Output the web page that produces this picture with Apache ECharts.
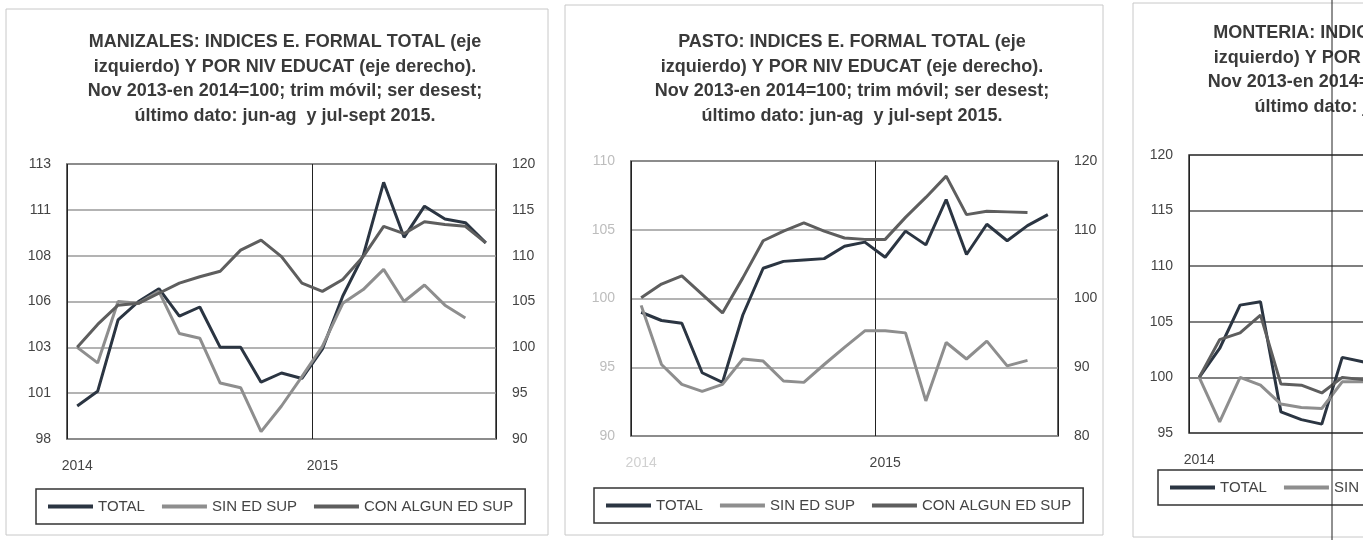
<!DOCTYPE html>
<html><head><meta charset="utf-8">
<script src="https://cdn.jsdelivr.net/npm/echarts@6/dist/echarts.min.js"></script>
<style>html,body{margin:0;padding:0;background:#fff}#c{width:1363px;height:540px}</style>
</head><body><div id="c"></div><script>
// ---- data ----
const categories = ['2014-01','2014-02','2014-03','2014-04','2014-05','2014-06','2014-07','2014-08','2014-09','2014-10','2014-11','2014-12',
  '2015-01','2015-02','2015-03','2015-04','2015-05','2015-06','2015-07','2015-08','2015-09'];
const seriesNames = ['TOTAL','SIN ED SUP','CON ALGUN ED SUP'];
// position (in category units, boundary before Jan 2015) of the year separator
const yearBreak = 11.5;

const manizalesTotal = [99.8,100.6,104.5,105.5,106.2,104.7,105.2,103.0,103.0,101.1,101.6,101.3,102.9,105.8,108.0,112.0,109.0,110.7,110.0,109.8,108.7];
const manizalesSin   = [100,98.3,105.0,104.8,106.1,101.5,101.0,96.1,95.6,90.8,93.6,96.8,100.1,104.8,106.3,108.5,105.0,106.8,104.6,103.2];
const manizalesCon   = [100,102.5,104.6,104.8,105.9,107.0,107.7,108.3,110.6,111.7,109.9,107.0,106.1,107.4,109.9,113.2,112.4,113.7,113.4,113.2,111.4];

const pastoTotal = [99.0,98.4,98.2,94.6,93.9,98.8,102.2,102.7,102.8,102.9,103.8,104.1,103.0,104.9,103.9,107.2,103.2,105.4,104.2,105.3,106.1];
const pastoSin   = [99.0,90.4,87.5,86.5,87.5,91.2,90.9,88.0,87.8,90.4,92.9,95.3,95.3,95.0,85.1,93.6,91.2,93.8,90.2,91.0];
const pastoCon   = [100.1,102.1,103.3,100.6,97.9,103.0,108.4,109.8,111.0,109.8,108.8,108.6,108.6,111.8,114.7,117.8,112.2,112.7,112.6,112.5];

const monteriaTotal = [100,102.6,106.5,106.8,96.9,96.2,95.8,101.8,101.4,101.2];
const monteriaCon   = [100,103.4,104.0,105.6,99.4,99.3,98.6,100.0,99.8,99.9];
const monteriaSin   = [100,96.0,100.0,99.3,97.6,97.3,97.2,99.6,99.6,99.8];

const titles = [
  'MANIZALES: INDICES E. FORMAL TOTAL (eje\nizquierdo) Y POR NIV EDUCAT (eje derecho).\nNov 2013-en 2014=100; trim móvil; ser desest;\núltimo dato: jun-ag  y jul-sept 2015.',
  'PASTO: INDICES E. FORMAL TOTAL (eje\nizquierdo) Y POR NIV EDUCAT (eje derecho).\nNov 2013-en 2014=100; trim móvil; ser desest;\núltimo dato: jun-ag  y jul-sept 2015.',
  'MONTERIA: INDICES E. FORMAL TOTAL (eje\nizquierdo) Y POR NIV EDUCAT (eje derecho).\nNov 2013-en 2014=100; trim móvil; ser desest;\núltimo dato: jun-ag  y jul-sept 2015.'
];

// ---- styling ----
const FONT = 'Liberation Sans, Arial, sans-serif';
const colors = {'TOTAL':'#2b3542','SIN ED SUP':'#8e8e8e','CON ALGUN ED SUP':'#5e5e5e'};

const grids = [
  {left:67, top:164, width:429, height:275},
  {left:631, top:161, width:427, height:275},
  {left:1189, top:155, width:429, height:278}
];

function xAx(g, labelColor){
  return {
    type:'category', gridIndex:g, data:categories, boundaryGap:true,
    axisLine:{show:false}, axisTick:{show:false},
    axisLabel:{interval:(i,v)=>v.endsWith('-01'), formatter:v=>v.slice(0,4), margin:20,
      fontSize:14, fontFamily:FONT, color:labelColor || '#444'},
    splitLine:{show:false}
  };
}
// hidden value axis in category units, used only to draw the year separator line
function xBreak(g){
  return {
    type:'value', gridIndex:g, min:-0.5, max:categories.length-0.5, interval:yearBreak+0.5,
    show:true, axisLine:{show:false}, axisTick:{show:false}, axisLabel:{show:false},
    splitLine:{show:true, lineStyle:{color:'#222', width:1}}
  };
}
function yAx(g, pos, min, max, interval, split, labelColor, splitColor){
  return {
    type:'value', gridIndex:g, position:pos, min:min, max:max, interval:interval,
    axisLine:{show:false}, axisTick:{show:false},
    axisLabel:{formatter:v=>String(Math.round(v)), margin:16, fontSize:14, fontFamily:FONT, color:labelColor || '#444'},
    splitLine:{show:split, lineStyle:{color:splitColor || '#9a9a9a', width:1.5}}
  };
}
function line(name, data, xi, yi){
  return {name:name, type:'line', data:data, xAxisIndex:xi, yAxisIndex:yi, symbol:'none',
    lineStyle:{width:3, color:colors[name]}, itemStyle:{color:colors[name]}, animation:false, z:3};
}
function legend(left, top){
  return {left:left, top:top, width:900, orient:'horizontal', icon:'rect', itemWidth:45, itemHeight:4, itemGap:17,
    padding:[10,12,10,12], borderColor:'#333', borderWidth:1.5, selectedMode:false,
    textStyle:{fontSize:15, color:'#444', fontFamily:FONT}, data:seriesNames};
}

const chart = echarts.init(document.getElementById('c'), null, {renderer:'canvas'});
chart.setOption({
  backgroundColor:'#ffffff',
  animation:false,
  grid: grids.map(g=>Object.assign({show:true, borderColor:'#333', borderWidth:1.5, backgroundColor:'transparent', outerBoundsMode:'none', containLabel:false}, g)),
  xAxis:[xAx(0), xAx(1, (v)=>v.startsWith('2014')?'#d0d0d0':'#444'), xAx(2), xBreak(0), xBreak(1), xBreak(2)],
  yAxis:[
    yAx(0,'left',98,113,2.5,true),
    yAx(0,'right',90,120,5,false),
    yAx(1,'left',90,110,5,true,'#bdbdbd'),
    yAx(1,'right',80,120,10,false),
    yAx(2,'left',95,120,5,true,'#444','#555')
  ],
  legend:[legend(36,489), legend(594,488), legend(1158,470)],
  series:[
    line('TOTAL', manizalesTotal, 0, 0),
    line('SIN ED SUP', manizalesSin, 0, 1),
    line('CON ALGUN ED SUP', manizalesCon, 0, 1),
    line('TOTAL', pastoTotal, 1, 2),
    line('SIN ED SUP', pastoSin, 1, 3),
    line('CON ALGUN ED SUP', pastoCon, 1, 3),
    line('TOTAL', monteriaTotal, 2, 4),
    line('SIN ED SUP', monteriaSin, 2, 4),
    line('CON ALGUN ED SUP', monteriaCon, 2, 4)
  ],
  graphic:[
    {type:'rect', shape:{x:6, y:9, width:542, height:526}, style:{fill:'none', stroke:'#c8c8c8', lineWidth:1}, silent:true, z:-1},
    {type:'rect', shape:{x:565, y:5, width:538, height:530}, style:{fill:'none', stroke:'#c8c8c8', lineWidth:1}, silent:true, z:-1},
    {type:'rect', shape:{x:1133, y:3, width:420, height:534}, style:{fill:'none', stroke:'#c8c8c8', lineWidth:1}, silent:true, z:-1},
    {type:'line', shape:{x1:1332, y1:0, x2:1332, y2:540}, style:{stroke:'#222', lineWidth:1}, silent:true, z:10},
    {type:'text', x:285, y:30, style:{text:titles[0], fill:'#3a3a3a', font:'bold 18px '+FONT, textAlign:'center', textVerticalAlign:'top', lineHeight:24.5}, silent:true},
    {type:'text', x:852, y:30, style:{text:titles[1], fill:'#3a3a3a', font:'bold 18px '+FONT, textAlign:'center', textVerticalAlign:'top', lineHeight:24.5}, silent:true},
    {type:'text', x:1405, y:21, style:{text:titles[2], fill:'#3a3a3a', font:'bold 18px '+FONT, textAlign:'center', textVerticalAlign:'top', lineHeight:24.5}, silent:true}
  ]
});
</script></body></html>
